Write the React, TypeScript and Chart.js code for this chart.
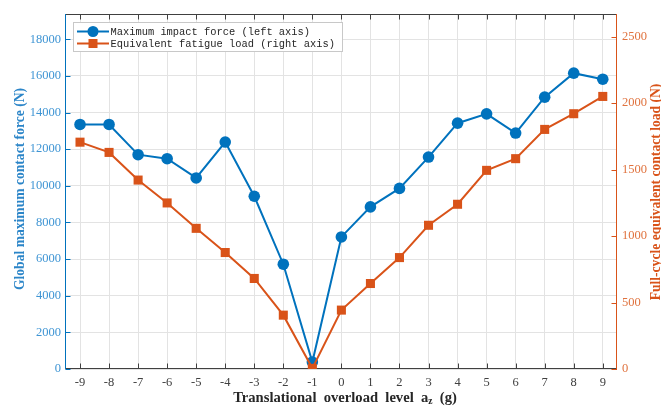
import React, { useEffect, useRef } from "react";
import { Chart, registerables } from "chart.js";

Chart.register(...registerables);

const levels = [-9, -8, -7, -6, -5, -4, -3, -2, -1, 0, 1, 2, 3, 4, 5, 6, 7, 8, 9];
const maxImpactForce = [13350, 13350, 11700, 11480, 10430, 12390, 9430, 5720, 380, 7210, 8850, 9860, 11570, 13420, 13930, 12880, 14840, 16150, 15820];
const fatigueLoad = [1706, 1629, 1421, 1249, 1058, 876, 681, 405, 5, 443, 643, 838, 1081, 1239, 1494, 1582, 1802, 1920, 2050];

const leftTicks = [0, 2000, 4000, 6000, 8000, 10000, 12000, 14000, 16000, 18000];
const rightTicks = [0, 500, 1000, 1500, 2000, 2500];

const seriesNames = ["Maximum impact force (left axis)", "Equivalent fatigue load (right axis)"];
const leftTitle = "Global maximum contact force (N)";
const rightTitle = "Full-cycle equivalent contact load (N)";

const BLUE = "#0072BD";
const ORANGE = "#D95319";
const SERIF = "'Liberation Serif', 'Times New Roman', serif";
const MONO = "'Liberation Mono', 'DejaVu Sans Mono', monospace";

const framePlugin = {
  id: "frame",
  beforeDatasetsDraw(chart: any) {
    const { ctx, chartArea: a, scales } = chart;
    const L = Math.round(a.left) + 0.5;
    const R = Math.round(a.right) - 0.5;
    const T = Math.round(a.top) + 0.5;
    const B = Math.round(a.bottom) - 0.5;
    ctx.save();
    ctx.lineWidth = 1;
    ctx.strokeStyle = "#404040";
    ctx.beginPath();
    ctx.moveTo(L, T); ctx.lineTo(R, T);
    ctx.moveTo(L, B); ctx.lineTo(R, B);
    scales.x.ticks.forEach((t: any) => {
      const x = Math.round(scales.x.getPixelForValue(t.value)) + 0.5;
      ctx.moveTo(x, B); ctx.lineTo(x, B - 5);
      ctx.moveTo(x, T); ctx.lineTo(x, T + 5);
    });
    ctx.stroke();
    ctx.strokeStyle = BLUE;
    ctx.beginPath();
    ctx.moveTo(L, T - 0.5); ctx.lineTo(L, B + 0.5);
    scales.y.ticks.forEach((t: any) => {
      const y = Math.round(scales.y.getPixelForValue(t.value)) + 0.5;
      ctx.moveTo(L, y); ctx.lineTo(L + 5, y);
    });
    ctx.stroke();
    ctx.strokeStyle = ORANGE;
    ctx.beginPath();
    ctx.moveTo(R, T - 0.5); ctx.lineTo(R, B + 1.5);
    scales.y1.ticks.forEach((t: any) => {
      const y = Math.round(scales.y1.getPixelForValue(t.value)) + 0.5;
      ctx.moveTo(R, y); ctx.lineTo(R - 5, y);
    });
    ctx.stroke();
    ctx.restore();
  },
  afterDraw(chart: any) {
    const { ctx, chartArea: a } = chart;
    ctx.save();
    ctx.font = `bold 13.6px ${SERIF}`;
    ctx.textAlign = "center";
    ctx.textBaseline = "middle";
    ctx.fillStyle = "#2B85C8";
    ctx.save();
    ctx.translate(20, 189);
    ctx.rotate(-Math.PI / 2);
    ctx.fillText(leftTitle, 0, 0);
    ctx.restore();
    ctx.fillStyle = ORANGE;
    ctx.save();
    ctx.translate(656, 192);
    ctx.rotate(-Math.PI / 2);
    ctx.fillText(rightTitle, 0, 0);
    ctx.restore();

    ctx.fillStyle = "#262626";
    ctx.textAlign = "left";
    ctx.textBaseline = "alphabetic";
    const p1 = "Translational  overload  level  a";
    const sub = "z";
    const p2 = "  (g)";
    ctx.font = `bold 14.6px ${SERIF}`;
    const w1 = ctx.measureText(p1).width;
    ctx.font = `bold 9.5px ${SERIF}`;
    const ws = ctx.measureText(sub).width;
    ctx.font = `bold 14.6px ${SERIF}`;
    const w2 = ctx.measureText(p2).width;
    const total = w1 + ws + w2;
    let x = (a.left + a.right) / 2 + 4 - total / 2;
    const by = 402;
    ctx.fillText(p1, x, by);
    x += w1;
    ctx.font = `bold 9.5px ${SERIF}`;
    ctx.fillText(sub, x, by + 2);
    x += ws;
    ctx.font = `bold 14.6px ${SERIF}`;
    ctx.fillText(p2, x, by);

    const bx = 73.5, byy = 22.5, bw = 269, bh = 29;
    ctx.fillStyle = "#ffffff";
    ctx.fillRect(bx, byy, bw, bh);
    ctx.strokeStyle = "#c8c8c8";
    ctx.lineWidth = 1;
    ctx.strokeRect(bx, byy, bw, bh);
    const rows = [
      { y: 31.5, color: BLUE, shape: "circle", text: seriesNames[0] },
      { y: 43.5, color: ORANGE, shape: "rect", text: seriesNames[1] },
    ];
    ctx.font = `10.4px ${MONO}`;
    ctx.textBaseline = "middle";
    rows.forEach((r) => {
      ctx.strokeStyle = r.color;
      ctx.lineWidth = 2;
      ctx.beginPath();
      ctx.moveTo(77, r.y); ctx.lineTo(109, r.y);
      ctx.stroke();
      ctx.fillStyle = r.color;
      if (r.shape === "circle") {
        ctx.beginPath();
        ctx.arc(93, r.y, 5.5, 0, Math.PI * 2);
        ctx.fill();
      } else {
        ctx.fillRect(93 - 4.5, r.y - 4.5, 9, 9);
      }
      ctx.fillStyle = "#262626";
      ctx.fillText(r.text, 110.5, r.y + 0.5);
    });
    ctx.restore();
  },
};

export default function App() {
  const ref = useRef<HTMLCanvasElement | null>(null);
  useEffect(() => {
    if (!ref.current) return;
    const chart = new Chart(ref.current, {
      type: "line",
      data: {
        datasets: [
          {
            label: seriesNames[0],
            data: levels.map((lv, i) => ({ x: lv, y: maxImpactForce[i] })),
            yAxisID: "y",
            borderColor: BLUE,
            backgroundColor: BLUE,
            borderWidth: 2,
            pointStyle: "circle",
            pointRadius: 5.8,
            pointBorderWidth: 0,
            order: 2,
          },
          {
            label: seriesNames[1],
            data: levels.map((lv, i) => ({ x: lv, y: fatigueLoad[i] })),
            yAxisID: "y1",
            borderColor: ORANGE,
            backgroundColor: ORANGE,
            borderWidth: 2,
            pointStyle: "rect",
            pointRadius: 6.4,
            pointBorderWidth: 0,
            order: 1,
          },
        ],
      },
      options: {
        responsive: false,
        animation: false,
        layout: { padding: { top: 14, left: 0, right: 0, bottom: 0 } },
        plugins: { legend: { display: false }, tooltip: { enabled: false } },
        scales: {
          x: {
            type: "linear",
            min: -9.517,
            max: 9.49,
            afterFit: (s: any) => { s.height = 38; },
            afterBuildTicks: (s: any) => { s.ticks = levels.map((v) => ({ value: v })); },
            ticks: {
              padding: 6,
              color: "#404040",
              font: { family: SERIF, size: 12.5 },
              callback: (v: any) => String(v),
            },
            grid: { color: "#e3e3e3", lineWidth: 1, drawTicks: false },
            border: { display: false },
          },
          y: {
            type: "linear",
            position: "left",
            min: 0,
            max: 19380,
            afterFit: (s: any) => { s.width = 65; },
            afterBuildTicks: (s: any) => { s.ticks = leftTicks.map((v) => ({ value: v })); },
            ticks: {
              padding: 4,
              color: "#3F95D4",
              font: { family: SERIF, size: 12.5 },
              callback: (v: any) => String(v),
            },
            grid: { color: "#e3e3e3", lineWidth: 1, drawTicks: false },
            border: { display: false },
          },
          y1: {
            type: "linear",
            position: "right",
            min: 0,
            max: 2670,
            afterFit: (s: any) => { s.width = 44; },
            afterBuildTicks: (s: any) => { s.ticks = rightTicks.map((v) => ({ value: v })); },
            ticks: {
              padding: 5,
              color: "#E0733F",
              font: { family: SERIF, size: 12.5 },
              callback: (v: any) => String(v),
            },
            grid: { display: false, drawTicks: false },
            border: { display: false },
          },
        },
      },
      plugins: [framePlugin],
    } as any);
    return () => chart.destroy();
  }, []);
  return (
    <div style={{ position: "absolute", left: 0, top: 0, width: 661, height: 407, background: "#fff" }}>
      <canvas ref={ref} width={661} height={407} style={{ display: "block" }} />
    </div>
  );
}
